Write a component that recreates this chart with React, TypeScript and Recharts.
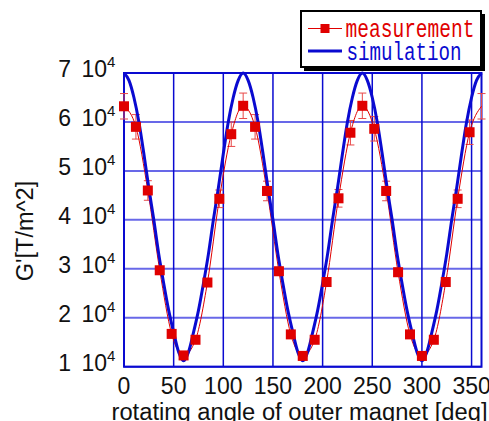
import {
  LineChart, Line, XAxis, YAxis, CartesianGrid, ErrorBar, Legend, ReferenceArea,
} from 'recharts';

// measurement points (every 12 deg)
const MEAS_ANGLE = [
  0, 12, 24, 36, 48, 60, 72, 84, 96, 108, 120, 132, 144, 156, 168, 180,
  192, 204, 216, 228, 240, 252, 264, 276, 288, 300, 312, 324, 336, 348, 360,
];
const MEAS_G = [
  63200, 59000, 46000, 29700, 16700, 12300, 15500, 27200, 44300, 57500, 63300,
  59000, 45900, 29500, 16600, 12200, 15500, 27300, 44400, 57800, 63300,
  58600, 45900, 29300, 16600, 12200, 15500, 27300, 44300, 57900, 63200,
];
const MEAS_ERR = [
  2600, 2500, 2000, 800, 400, 300, 400, 800, 1800, 2500, 2600,
  2500, 2000, 800, 400, 300, 400, 800, 1800, 2500, 2600,
  2500, 2000, 800, 400, 300, 400, 800, 1800, 2500, 2600,
];

// simulation curve (every 5 deg)
const SIM_ANGLE = [
  0, 5, 10, 15, 20, 25, 30, 35, 40, 45, 50, 55, 60, 65, 70, 75, 80, 85, 90, 95, 100, 105, 110, 115,
  120, 125, 130, 135, 140, 145, 150, 155, 160, 165, 170, 175, 180, 185, 190, 195, 200, 205, 210, 215, 220, 225, 230, 235,
  240, 245, 250, 255, 260, 265, 270, 275, 280, 285, 290, 295, 300, 305, 310, 315, 320, 325, 330, 335, 340, 345, 350, 355,
  360,
];
const SIM_G = [
  70000, 68500, 65000, 60000, 53500, 46500, 40000, 33000, 27000, 21500, 17000, 13000,
  11200, 13000, 17000, 21500, 27000, 33000, 40000, 46500, 53500, 60000, 65000, 68500,
  70000, 68500, 65000, 60000, 53500, 46500, 40000, 33000, 27000, 21500, 17000, 13000,
  11200, 13000, 17000, 21500, 27000, 33000, 40000, 46500, 53500, 60000, 65000, 68500,
  70000, 68500, 65000, 60000, 53500, 46500, 40000, 33000, 27000, 21500, 17000, 13000,
  11200, 13000, 17000, 21500, 27000, 33000, 40000, 46500, 53500, 60000, 65000, 68500,
  70000,
];

const X_TICKS = [0, 50, 100, 150, 200, 250, 300, 350];
const Y_TICKS = [10000, 20000, 30000, 40000, 50000, 60000, 70000];

const RED = '#e00000';
const BLUE = '#0a0ad0';
const PLOT_BOTTOM = 366.7;

const measData = MEAS_ANGLE.map((a, i) => ({ angle: a, g: MEAS_G[i], err: MEAS_ERR[i] }));
const simData = SIM_ANGLE.map((a, i) => ({ angle: a, sim: SIM_G[i] }));

const XTick = ({ x, payload }: any) => (
  <text x={x} y={PLOT_BOTTOM + 27} textAnchor="middle" fontSize={23}
    fontFamily="'Liberation Sans', Arial, sans-serif" fill="#111">
    {payload.value}
  </text>
);

const YTick = ({ y, payload }: any) => {
  const font = "'Liberation Sans Narrow', 'Liberation Sans', sans-serif";
  return (
    <g>
      <text x={71} y={y + 4} textAnchor="end" fontSize={23} fontFamily={font} fill="#111">
        {payload.value / 10000}
      </text>
      <text x={107} y={y + 4} textAnchor="end" fontSize={23} fontFamily={font} fill="#111">10</text>
      <text x={107} y={y - 6} fontSize={15} fontFamily={font} fill="#111">4</text>
    </g>
  );
};

const MeasDot = (props: any) => {
  const { cx, cy, index, payload } = props;
  if (payload.angle === 360) return <g key={`d${index}`} />;
  return <rect key={`d${index}`} x={cx - 5} y={cy - 5} width={10} height={10} fill={RED} />;
};

const LegendBox = () => (
  <svg width={188} height={64}>
    <rect x={4} y={4} width={181} height={57} fill="#000" />
    <rect x={1} y={1} width={180} height={56} fill="#fff" stroke="#000" strokeWidth={2} />
    <line x1={8} y1={18.5} x2={42} y2={18.5} stroke={RED} strokeWidth={1.2} />
    <rect x={20.5} y={14} width={9} height={9} fill={RED} />
    <text x={45.5} y={27} fontSize={25} fontFamily="'Liberation Mono', 'DejaVu Sans Mono', monospace"
      fill={RED} textLength={129} lengthAdjust="spacingAndGlyphs">measurement</text>
    <line x1={8} y1={41} x2={42} y2={41} stroke={BLUE} strokeWidth={3} />
    <text x={46.5} y={49.5} fontSize={25} fontFamily="'Liberation Mono', 'DejaVu Sans Mono', monospace"
      fill={BLUE} textLength={115} lengthAdjust="spacingAndGlyphs">simulation</text>
  </svg>
);

export default function App() {
  return (
    <div style={{ position: 'absolute', left: 0, top: 0, background: '#fff' }}>
      <LineChart width={489} height={421} margin={{ top: 73, right: 7.5, bottom: 0, left: 0 }}>
        <CartesianGrid vertical={false} stroke="#6868e8" strokeWidth={2} horizontalValues={Y_TICKS} />
        <CartesianGrid horizontal={false} stroke={BLUE} strokeWidth={1.5} verticalValues={X_TICKS} />
        <XAxis
          type="number"
          dataKey="angle"
          domain={[0, 360]}
          ticks={X_TICKS}
          allowDuplicatedCategory={false}
          tick={<XTick />}
          tickLine={false}
          axisLine={false}
          height={54.3}
          label={() => (
            <text x={111.5} y={420} fontSize={23.5} fontFamily="'Liberation Sans', Arial, sans-serif" fill="#111"
              textLength={376} lengthAdjust="spacingAndGlyphs">
              rotating angle of outer magnet [deg]
            </text>
          )}
        />
        <YAxis
          type="number"
          domain={[10000, 70000]}
          ticks={Y_TICKS}
          tick={<YTick />}
          tickLine={false}
          axisLine={false}
          width={124}
          label={() => (
            <text x={33} y={231} fontSize={23.5} fontFamily="'Liberation Sans', Arial, sans-serif" fill="#111"
              textAnchor="middle" transform="rotate(-90, 33, 231)">
              G'[T/m^2]
            </text>
          )}
        />
        <ReferenceArea x1={0} x2={360} y1={10000} y2={70000} fill="none" fillOpacity={0}
          stroke={BLUE} strokeWidth={2} />
        <Line
          data={measData}
          dataKey="g"
          type="monotone"
          stroke={RED}
          strokeWidth={1}
          dot={MeasDot}
          activeDot={false}
          isAnimationActive={false}
        >
          <ErrorBar dataKey="err" direction="y" width={4} stroke="#e84848" strokeWidth={1} />
        </Line>
        <Line
          data={simData}
          dataKey="sim"
          type="monotone"
          stroke={BLUE}
          strokeWidth={3}
          dot={false}
          activeDot={false}
          isAnimationActive={false}
        />
        <Legend
          layout="vertical"
          align="center"
          verticalAlign="middle"
          wrapperStyle={{ top: 10, left: 300, width: 188, height: 64, bottom: 'auto', right: 'auto' }}
          content={() => <LegendBox />}
        />
      </LineChart>
    </div>
  );
}
